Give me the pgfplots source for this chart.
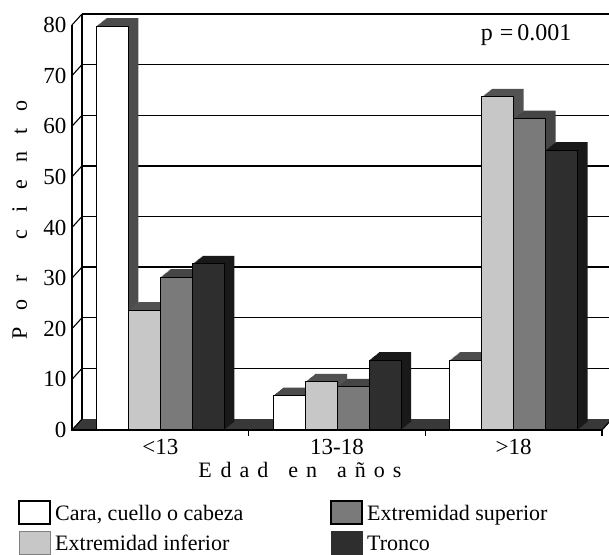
\documentclass[border=0pt]{standalone}
\usepackage{pgfplots}
\pgfplotsset{compat=1.18}
\usepackage{pgfplotstable}
\usepackage{fontspec}
\setmainfont{Liberation Serif}
\definecolor{cinf}{gray}{0.78}
\definecolor{csup}{gray}{0.48}
\definecolor{ctro}{gray}{0.18}
\definecolor{sidecara}{gray}{0.30}
\definecolor{sideinf}{gray}{0.32}
\definecolor{sidesup}{gray}{0.27}
\definecolor{sidetro}{gray}{0.10}
\definecolor{floorc}{gray}{0.22}

\pgfplotstableread{
x cara inf sup tronco
0 79.8 23.7 30.2 32.8
1 6.8 9.5 8.5 13.8
2 13.8 65.8 61.5 55.3
}\datatable

\begin{document}
\begin{tikzpicture}[font=\fontsize{22}{26}\selectfont]
\begin{axis}[
  scale only axis, width=530pt, height=405pt,
  xmin=-0.5, xmax=2.5, ymin=0, ymax=80,
  clip=false,
  axis line style={draw=none},
  major tick length=0pt,
  ytick={0,10,...,80},
  xtick={0,1,2},
  xticklabels={{<13},{13-18},{>18}},
  tick label style={font=\fontsize{23}{27}\selectfont},
  /pgf/number format/assume math mode=true,
  xticklabel style={yshift=-6pt},
  yticklabel style={xshift=-2pt},
  ybar, bar width=32pt,
  legend columns=2,
  legend style={draw=none, fill=none, at={(rel axis cs:-0.1075,-0.168)}, anchor=north west,
     font=\fontsize{22}{26}\selectfont, row sep=6pt, column sep=4pt,
     nodes={inner sep=0pt}, cells={anchor=west}},
  legend image code/.code={\draw[#1] (0pt,-11pt) rectangle (31pt,12pt);},
]
% floor and walls
\fill[floorc] (axis cs:-0.5,0) -- (axis cs:2.5,0) -- ([shift={(10pt,11pt)}]axis cs:2.5,0) -- ([shift={(10pt,11pt)}]axis cs:-0.5,0) -- cycle;
\pgfplotsinvokeforeach{10,20,...,80}{
  \draw[line width=1.3pt] ([shift={(10pt,11pt)}]axis cs:-0.5,#1) -- ([shift={(10pt,11pt)}]axis cs:2.5,#1);
}
\pgfplotsinvokeforeach{0,10,...,80}{
  \draw[line width=1.1pt] (axis cs:-0.5,#1) -- ([shift={(10pt,11pt)}]axis cs:-0.5,#1);
}
\draw[line width=1.1pt] ([shift={(10pt,11pt)}]axis cs:-0.5,0) -- ([shift={(10pt,11pt)}]axis cs:-0.5,80);

% Cara, cuello o cabeza
\pgfplotsinvokeforeach{1,...,10}{
  \addplot[forget plot, draw=none, fill=sidecara, bar shift=-48pt, xshift=#1pt, yshift=0.8*#1pt] table[x=x,y=cara]{\datatable};
}
\addplot[forget plot, fill=white, draw=black, line width=1pt, bar shift=-48pt] table[x=x,y=cara]{\datatable};
% Extremidad inferior
\pgfplotsinvokeforeach{1,...,10}{
  \addplot[forget plot, draw=none, fill=sideinf, bar shift=-16pt, xshift=#1pt, yshift=0.8*#1pt] table[x=x,y=inf]{\datatable};
}
\addplot[forget plot, fill=cinf, draw=black, line width=1pt, bar shift=-16pt] table[x=x,y=inf]{\datatable};
% Extremidad superior
\pgfplotsinvokeforeach{1,...,10}{
  \addplot[forget plot, draw=none, fill=sidesup, bar shift=16pt, xshift=#1pt, yshift=0.8*#1pt] table[x=x,y=sup]{\datatable};
}
\addplot[forget plot, fill=csup, draw=black, line width=1pt, bar shift=16pt] table[x=x,y=sup]{\datatable};
% Tronco
\pgfplotsinvokeforeach{1,...,10}{
  \addplot[forget plot, draw=none, fill=sidetro, bar shift=48pt, xshift=#1pt, yshift=0.8*#1pt] table[x=x,y=tronco]{\datatable};
}
\addplot[forget plot, fill=ctro, draw=black, line width=1pt, bar shift=48pt] table[x=x,y=tronco]{\datatable};

% front axis lines
\draw[line width=1.3pt] (axis cs:-0.5,80) -- (axis cs:-0.5,0) -- (axis cs:2.5,0);
\pgfplotsinvokeforeach{0.5,1.5,2.5}{\draw[line width=1.1pt] (axis cs:#1,0) -- ++(0pt,-6pt);}
\draw[line width=1.1pt] (axis cs:2.5,0) -- ++(10pt,11pt);

\node[font=\fontsize{24}{28}\selectfont] at (axis cs:2.07,78) {p\hspace{7pt}=\hspace{4pt}0.001};
\node[rotate=90, anchor=base] at ([xshift=-45pt]axis cs:-0.5,41.5)
  {P\hspace{17pt}o\hspace{17pt}r\hspace{36pt}c\hspace{17pt}i\hspace{17pt}e\hspace{17pt}n\hspace{17pt}t\hspace{17pt}o};
\node[anchor=base] at ([yshift=-47pt]axis cs:0.79,0)
  {E\hspace{9pt}d\hspace{8pt}a\hspace{8pt}d\hspace{20pt}e\hspace{8pt}n\hspace{20pt}a\hspace{8pt}ñ\hspace{8pt}o\hspace{8pt}s};

\addlegendimage{fill=white, draw=black, line width=2pt}
\addlegendentry{\makebox[271pt][l]{Cara, cuello o cabeza}}
\addlegendimage{fill=csup, draw=black, line width=2pt}
\addlegendentry{Extremidad superior}
\addlegendimage{fill=cinf, draw=gray, line width=1pt}
\addlegendentry{\makebox[271pt][l]{Extremidad inferior}}
\addlegendimage{fill=ctro, draw=ctro, line width=1pt}
\addlegendentry{Tronco}
\end{axis}
\pgfresetboundingbox
\path (-72pt,-124pt) rectangle (537pt,430pt);
\end{tikzpicture}
\end{document}
